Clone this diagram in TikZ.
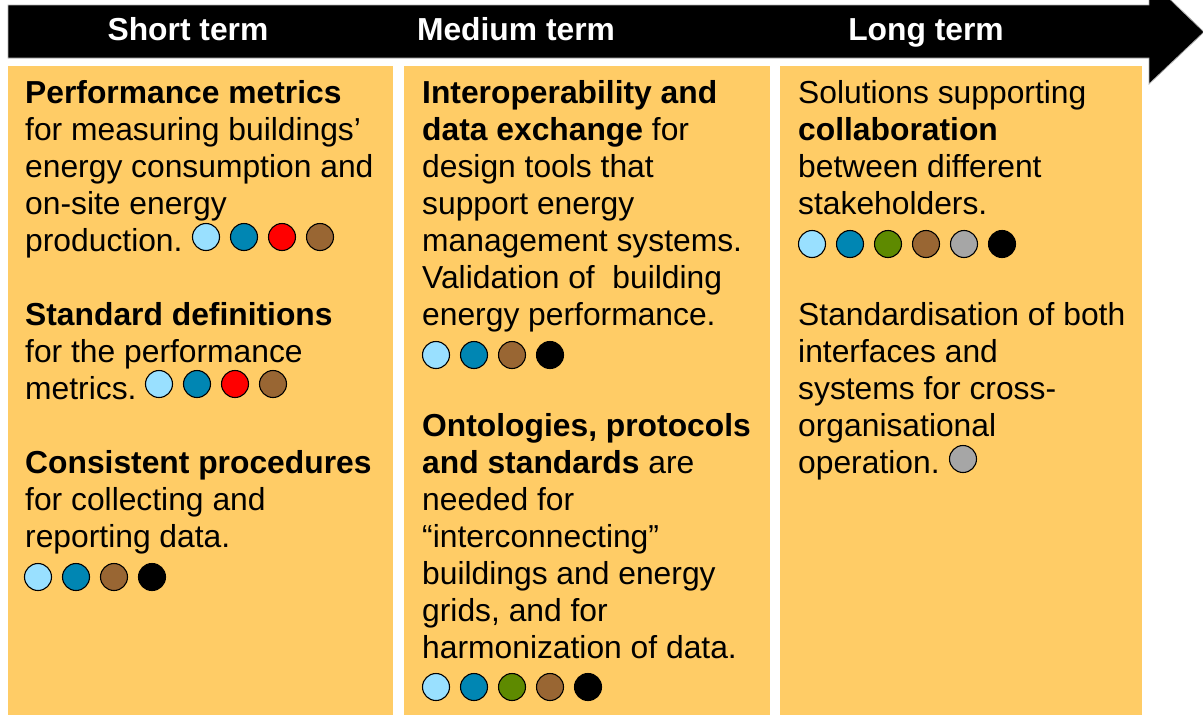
\documentclass[tikz,border=0pt]{standalone}
\usepackage{fontspec}
\setmainfont{Liberation Sans}
\usetikzlibrary{positioning}

\definecolor{boxorange}{RGB}{255,204,102}
\definecolor{cLight}{RGB}{153,224,255}
\definecolor{cBlue}{RGB}{0,134,179}
\definecolor{cRed}{RGB}{255,0,0}
\definecolor{cBrown}{RGB}{153,102,51}
\definecolor{cGreen}{RGB}{94,138,0}
\definecolor{cGrey}{RGB}{166,166,166}
\definecolor{cBlack}{RGB}{0,0,0}

\tikzset{
  phase/.style={fill=boxorange},
  % base anchor sits on the last line
  para/.style={anchor=base west, align=left, inner sep=0pt,
    font=\fontsize{31.8}{37}\selectfont},
  head/.style={anchor=base, text=white, inner sep=0pt,
    font=\fontsize{31.8}{37}\selectfont\bfseries},
  dot/.style={circle, draw=black, line width=1.1pt, minimum size=27pt, inner sep=0pt}
}

\begin{document}
\begin{tikzpicture}[x=1pt,y=-1pt]
  \useasboundingbox (0,0) rectangle (1203,715);
  \clip (0,0) rectangle (1203,715);

  % time arrow
  \filldraw[fill=black, draw=gray!60, line width=0.8pt]
    (8,5) -- (1149,5) -- (1149,-21) -- (1204,32) -- (1149,84)
    -- (1149,58) -- (8,58) -- cycle;
  \node[head] (short)  at (188,40) {Short term};
  \node[head] (medium) at (516,40) {Medium term};
  \node[head] (long)   at (926,40) {Long term};

  % columns
  \fill[phase] (8,66)   rectangle (393,715);
  \fill[phase] (404,66) rectangle (770,715);
  \fill[phase] (780,66) rectangle (1142,715);

  % short term
  \node[para] (perf) at (25,251) {\textbf{Performance metrics}\\for measuring buildings’\\energy consumption and\\on-site energy\\production.};
  \node[para] (stdef) at (25,399) {\textbf{Standard definitions}\\for the performance\\metrics.};
  \node[para] (proc) at (25,547) {\textbf{Consistent procedures}\\for collecting and\\reporting data.};

  % medium term
  \node[para] (interop) at (422,325) {\textbf{Interoperability and}\\\textbf{data exchange} for\\design tools that\\support energy\\management systems.\\Validation of~ building\\energy performance.};
  \node[para] (onto) at (422,658) {\textbf{Ontologies, protocols}\\\textbf{and standards} are\\needed for\\“interconnecting”\\buildings and energy\\grids, and for\\harmonization of data.};

  % long term
  \node[para] (collab) at (798,214) {Solutions supporting\\\textbf{collaboration}\\between different\\stakeholders.};
  \node[para] (stand) at (798,473) {Standardisation of both\\interfaces and\\systems for cross-\\organisational\\operation.};

  % stakeholder dots
  \foreach \c [count=\i] in {cLight,cBlue,cRed,cBrown}
    \node[dot, fill=\c] (perf-\i) at ({206+38*(\i-1)},237) {};
  \foreach \c [count=\i] in {cLight,cBlue,cRed,cBrown}
    \node[dot, fill=\c] (stdef-\i) at ({159+38*(\i-1)},384) {};
  \foreach \c [count=\i] in {cLight,cBlue,cBrown,cBlack}
    \node[dot, fill=\c] (proc-\i) at ({38+38*(\i-1)},577) {};
  \foreach \c [count=\i] in {cLight,cBlue,cBrown,cBlack}
    \node[dot, fill=\c] (interop-\i) at ({436+38*(\i-1)},355) {};
  \foreach \c [count=\i] in {cLight,cBlue,cGreen,cBrown,cBlack}
    \node[dot, fill=\c] (onto-\i) at ({436+38*(\i-1)},687) {};
  \foreach \c [count=\i] in {cLight,cBlue,cGreen,cBrown,cGrey,cBlack}
    \node[dot, fill=\c] (collab-\i) at ({812+38*(\i-1)},244) {};
  \node[dot, fill=cGrey] (stand-1) at (963,459) {};
\end{tikzpicture}
\end{document}
